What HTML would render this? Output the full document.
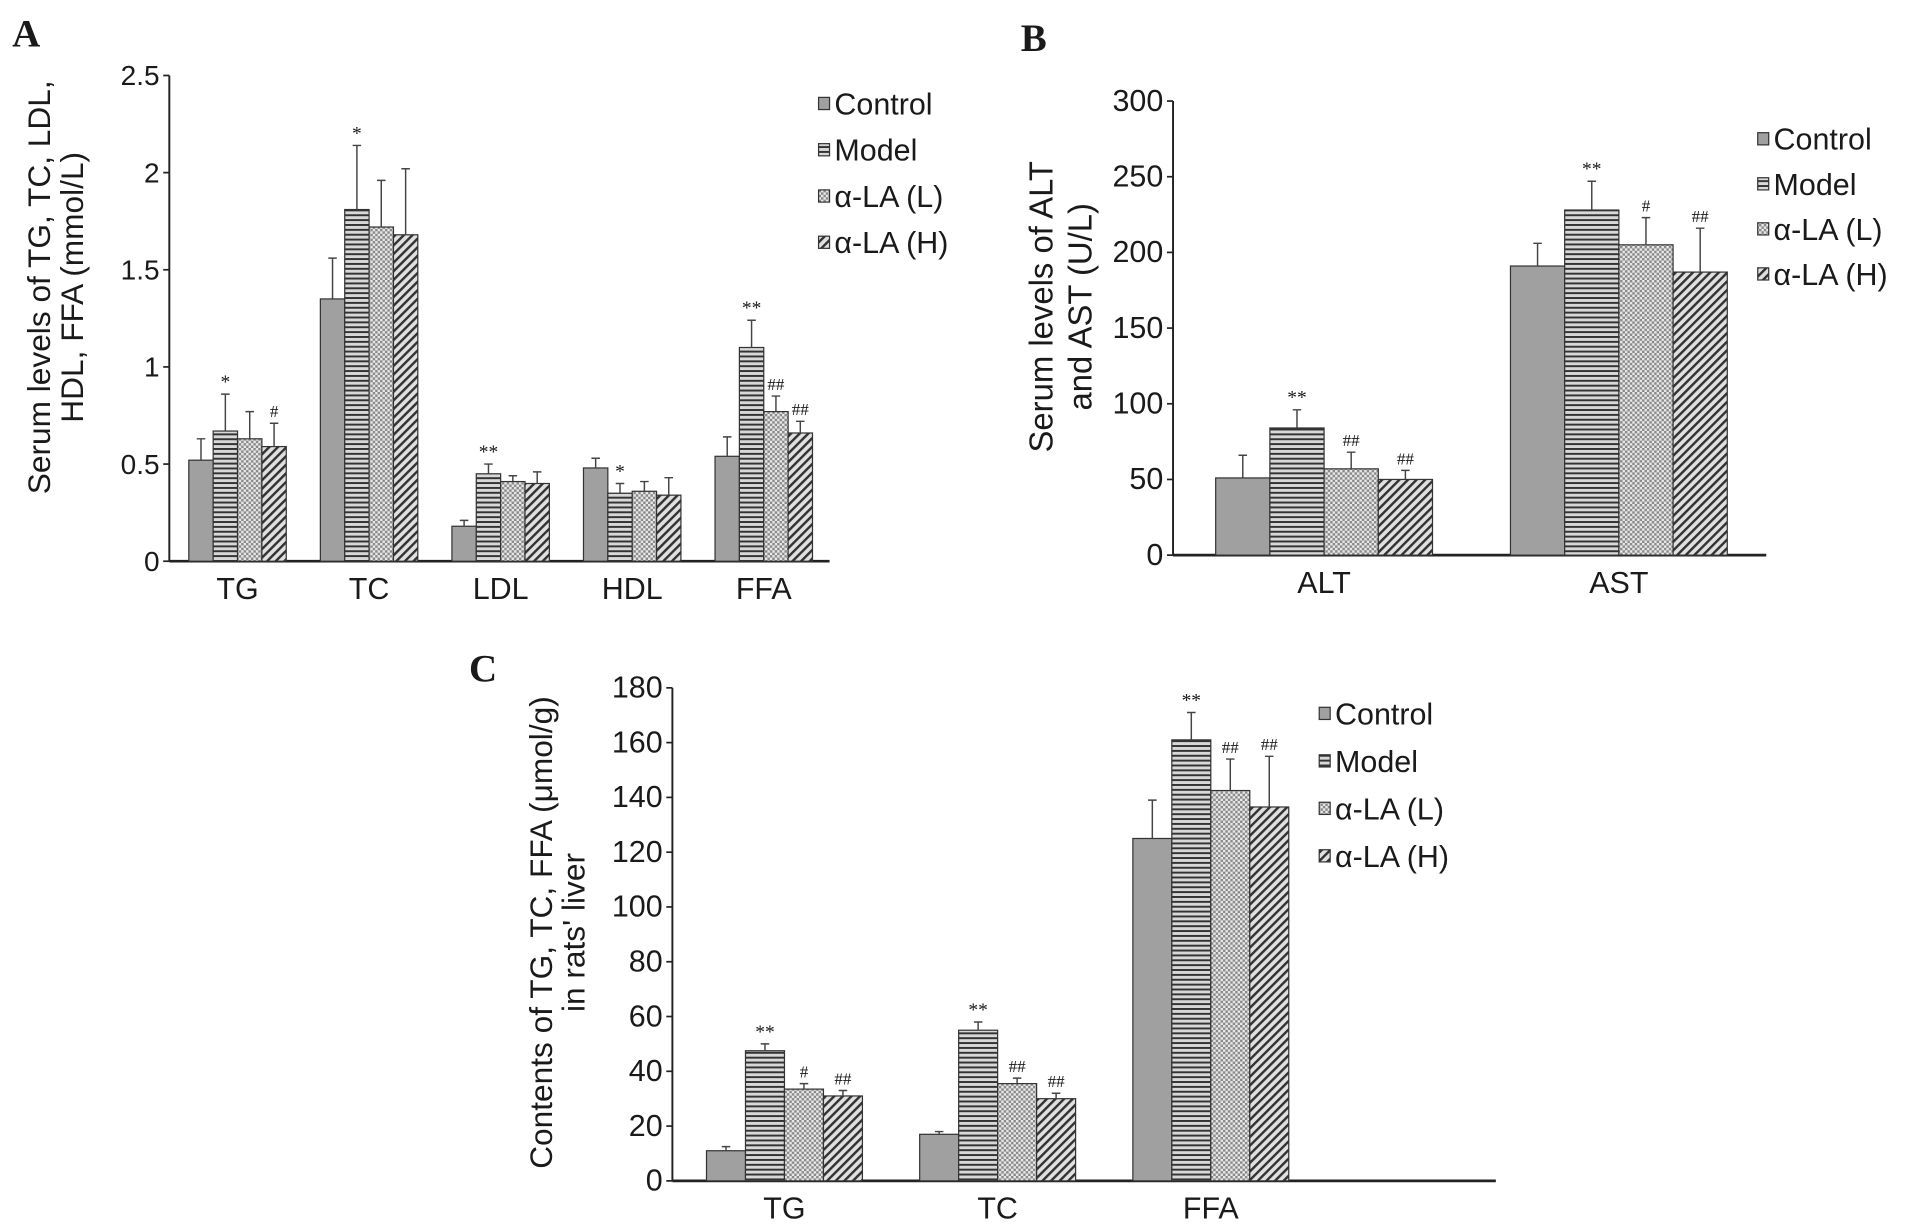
<!DOCTYPE html>
<html><head><meta charset="utf-8"><style>
html,body{margin:0;padding:0;background:#fff;}
svg{display:block;}
text{font-family:"Liberation Sans",sans-serif;fill:#1a1a1a;}
</style></head><body>
<svg id="fig" width="1910" height="1232" viewBox="0 0 1568 1012" preserveAspectRatio="none" xmlns="http://www.w3.org/2000/svg">
<defs>
<pattern id="p-model" width="6" height="4" patternUnits="userSpaceOnUse"><rect width="6" height="4" fill="#d8d8d8"/><rect width="6" height="1.6" fill="#333"/></pattern>
<pattern id="p-low" width="4" height="4" patternUnits="userSpaceOnUse"><rect width="4" height="4" fill="#e8e8e8"/><rect width="2" height="2" fill="#8a8a8a"/><rect x="2" y="2" width="2" height="2" fill="#8a8a8a"/></pattern>
<pattern id="p-high" width="5" height="5" patternUnits="userSpaceOnUse" patternTransform="rotate(45)"><rect width="5" height="5" fill="#e0e0e0"/><rect width="2" height="5" fill="#333"/></pattern>
</defs>
<g id="root"></g>
</svg>
<script>
const seriesNames = ["Control","Model","α-LA (L)","α-LA (H)"];
const fills = ["#a0a0a0","url(#p-model)","url(#p-low)","url(#p-high)"];

const catsA = ["TG","TC","LDL","HDL","FFA"];
const valsA = [[0.52,0.67,0.63,0.59],[1.35,1.81,1.72,1.68],[0.18,0.45,0.41,0.40],[0.48,0.35,0.36,0.34],[0.54,1.10,0.77,0.66]];
const errA = [[0.63,0.86,0.77,0.71],[1.56,2.14,1.96,2.02],[0.21,0.50,0.44,0.46],[0.53,0.40,0.41,0.43],[0.64,1.24,0.85,0.72]];
const sigA = [["","*","","#"],["","*","",""],["","**","",""],["","*","",""],["","**","##","##"]];
const ticksA = ["0","0.5","1","1.5","2","2.5"];

const catsB = ["ALT","AST"];
const valsB = [[51,84,57,50],[191,228,205,187]];
const errB = [[66,96,68,56],[206,247,223,216]];
const sigB = [["","**","##","##"],["","**","#","##"]];
const ticksB = ["0","50","100","150","200","250","300"];

const catsC = ["TG","TC","FFA"];
const valsC = [[11,47.5,33.5,31],[17,55,35.5,30],[125,161,142.5,136.5]];
const errC = [[12.5,50,35.5,33],[18,58,37.5,32],[139,171,154,155]];
const sigC = [["","**","#","##"],["","**","##","##"],["","**","##","##"]];
const ticksC = ["0","20","40","60","80","100","120","140","160","180"];

const NS="http://www.w3.org/2000/svg";
const root=document.getElementById('root');
function mk(tag,attrs,parent,txt){const e=document.createElementNS(NS,tag);for(const k in attrs)e.setAttribute(k,attrs[k]);if(txt!==undefined)e.textContent=txt;(parent||root).appendChild(e);return e;}

function panel(cfg){
  const g=mk('g',{});
  
  
  const tmax=parseFloat(cfg.ticks[cfg.ticks.length-1]);
  const y=v=>cfg.y0-(v/tmax)*(cfg.y0-cfg.yTop);
  const cx=i=>cfg.c0+i*cfg.step;
  const L=mk('text',{x:cfg.lx,y:cfg.ly,'font-size':32,'font-weight':'bold',style:'font-family:"Liberation Serif",serif'},g,cfg.id);
  
  
  const ya=mk('line',{x1:cfg.x0,y1:cfg.yTop,x2:cfg.x0,y2:cfg.y0,stroke:'#222','stroke-width':1.6},g);
  
  
  const xa=mk('line',{x1:cfg.x0,y1:cfg.y0,x2:cfg.x1,y2:cfg.y0,stroke:'#222','stroke-width':2.2},g);
  
  
  cfg.ticks.forEach(t=>{
    const v=parseFloat(t);
    mk('line',{x1:cfg.x0-5,y1:y(v),x2:cfg.x0,y2:y(v),stroke:'#222','stroke-width':1.4},g);
    const tl=mk('text',{x:cfg.x0-8,y:y(v)+8,'font-size':cfg.tfs,'text-anchor':'end'},g,t);
    
    
  });
  const yt=mk('text',{transform:`translate(${cfg.tx},${cfg.ty}) rotate(-90)`,'font-size':cfg.tifs,'text-anchor':'middle'},g);
  
  
  cfg.title.forEach((s,i)=>mk('tspan',{x:0,dy:i?cfg.tlh:0},yt,s));
  cfg.cats.forEach((c,i)=>{
    const cl=mk('text',{x:cx(i),y:cfg.y0+31,'font-size':25,'text-anchor':'middle'},g,c);
    
    
    cfg.vals[i].forEach((v,j)=>{
      const bx=cx(i)-2*cfg.bw+j*cfg.bw;
      const r=mk('rect',{x:bx,y:y(v),width:cfg.bw,height:cfg.y0-y(v),fill:fills[j],stroke:'#333','stroke-width':1},g);
      
      
      const mx=bx+cfg.bw/2, et=y(cfg.err[i][j]);
      const eb=mk('path',{d:`M${mx} ${y(v)}V${et}M${mx-3.5} ${et}H${mx+3.5}`,stroke:'#444','stroke-width':1.2,fill:'none'},g);
      
      
      const s=cfg.sig[i][j];
      if(s){const st=mk('text',{x:mx,y:et-5,'font-size':s[0]=='*'?16:14,'text-anchor':'middle',style:'font-family:"Liberation Serif",serif'},g,s);
        
        }
    });
  });
  seriesNames.forEach((n,j)=>{
    const ly=cfg.legY+j*cfg.legStep;
    const sw=mk('rect',{x:cfg.legX,y:ly-6,width:9,height:10,fill:fills[j],stroke:'#333','stroke-width':1},g);
    
    
    const lt=mk('text',{x:cfg.legX+13,y:ly+8,'font-size':25},g,n);
    
    
  });
}
panel({id:'A',lx:10,ly:38,x0:139,x1:681,yTop:62,y0:461,c0:195,step:108,bw:20,ticks:ticksA,tfs:23,cats:catsA,vals:valsA,err:errA,sig:sigA,
  title:["Serum levels of TG, TC, LDL,","HDL, FFA (mmol/L)"],tifs:26,tx:41,ty:236,tlh:27,legX:672,legY:86,legStep:38});
panel({id:'B',lx:838,ly:42,x0:963,x1:1450,yTop:83,y0:456,c0:1087,step:242,bw:44.5,ticks:ticksB,tfs:25,cats:catsB,vals:valsB,err:errB,sig:sigB,
  title:["Serum levels of ALT","and AST (U/L)"],tifs:27,tx:864,ty:252,tlh:32,legX:1443,legY:115,legStep:37});
panel({id:'C',lx:385,ly:560,x0:552,x1:1228,yTop:565,y0:970,c0:644,step:175,bw:32,ticks:ticksC,tfs:25,cats:catsC,vals:valsC,err:errC,sig:sigC,
  title:["Contents of TG, TC, FFA (μmol/g)","in rats' liver"],tifs:26,tx:453,ty:766,tlh:27,legX:1083,legY:587,legStep:39});
</script>
</body></html>
